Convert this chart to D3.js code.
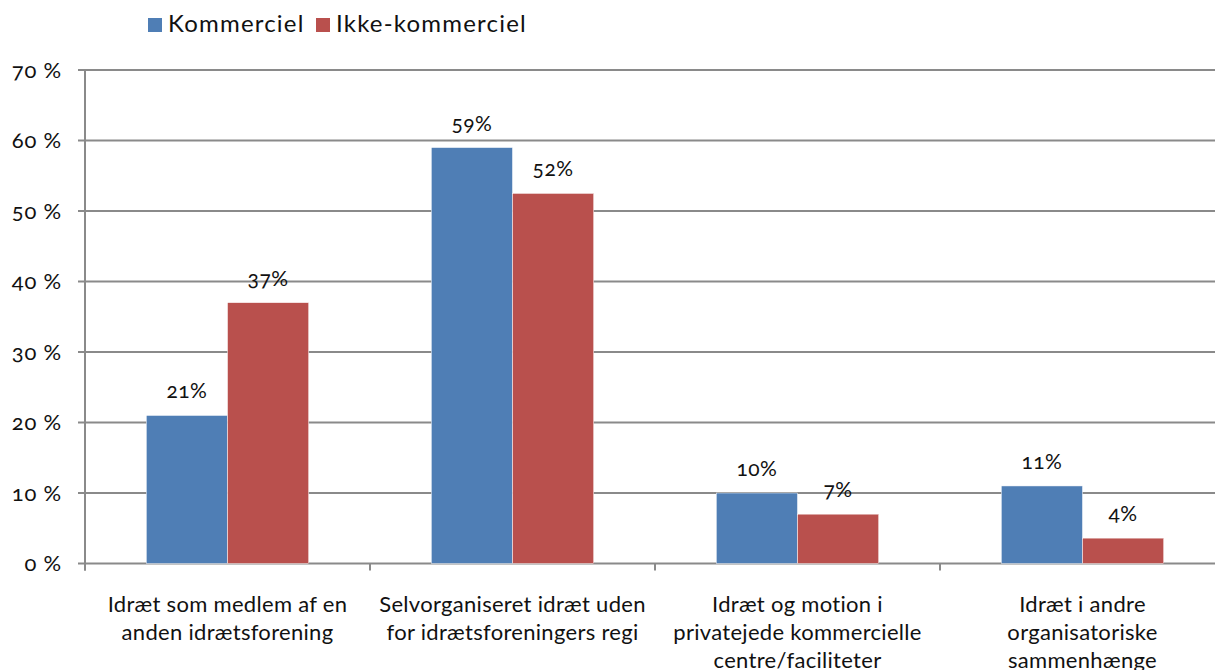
<!DOCTYPE html>
<html>
<head>
<meta charset="utf-8">
<script src="https://cdn.jsdelivr.net/npm/d3@7"></script>
<style>
  body { margin: 0; background: #fff; }
  text { font-family: Lato, "Open Sans", sans-serif; fill: #111; font-variant-numeric: oldstyle-nums; }
</style>
</head>
<body>
<div id="chart"></div>
<script>
var categories = [
  ["Idræt som medlem af en", "anden idrætsforening"],
  ["Selvorganiseret idræt uden", "for idrætsforeningers regi"],
  ["Idræt og motion i", "privatejede kommercielle", "centre/faciliteter"],
  ["Idræt i andre", "organisatoriske", "sammenhænge"]
];
var seriesNames = ["Kommerciel", "Ikke-kommerciel"];
var kommerciel = [21, 59, 10, 11];
var ikkeKommerciel = [37, 52.5, 7, 3.6];
var valueLabels = [["21%", "59%", "10%", "11%"], ["37%", "52%", "7%", "4%"]];
var yTicks = [0, 10, 20, 30, 40, 50, 60, 70];
var colors = ["#4F7EB5", "#B9504D"];

var svg = d3.select("#chart").append("svg")
  .attr("width", 1215)
  .attr("height", 670);

var margin = {top: 70, left: 85},
    width = 1140,
    height = 493.5,
    g = svg.append("g").attr("transform", "translate(" + margin.left + "," + margin.top + ")");

var x0 = d3.scaleBand().domain(d3.range(categories.length)).range([0, width])
  .paddingInner(0.43).paddingOuter(0.215);
var x1 = d3.scaleBand().domain([0, 1]).range([0, x0.bandwidth()]);
var y = d3.scaleLinear().domain([0, 70]).range([height, 0]);

// gridlines
g.selectAll(".grid").data(yTicks).enter().append("line")
  .attr("x1", -7).attr("x2", width)
  .attr("y1", function(d) { return y(d); })
  .attr("y2", function(d) { return y(d); })
  .style("stroke", "#8a8a8a").style("stroke-width", "2px");

g.selectAll(".ylab").data(yTicks).enter().append("text")
  .attr("x", -23).attr("y", function(d) { return y(d); })
  .attr("dy", "0.35em")
  .attr("text-anchor", "end")
  .style("font-size", "22px")
  .style("letter-spacing", "0.8px")
  .text(function(d) { return d + " %"; });

// axis line + category ticks
g.append("line").attr("x1", 0).attr("x2", 0).attr("y1", 0).attr("y2", height + 7)
  .style("stroke", "#8a8a8a").style("stroke-width", "2px");
var step = x0.step();
g.selectAll(".xtick").data(d3.range(categories.length + 1)).enter().append("line")
  .attr("x1", function(d) { return d * step; })
  .attr("x2", function(d) { return d * step; })
  .attr("y1", height).attr("y2", height + 7)
  .style("stroke", "#8a8a8a").style("stroke-width", "2px");

var series = [kommerciel, ikkeKommerciel];
series.forEach(function(vals, s) {
  g.selectAll(".bar" + s).data(vals).enter().append("rect")
    .attr("x", function(d, i) { return x0(i) + x1(s); })
    .attr("y", function(d) { return y(d); })
    .attr("width", x1.bandwidth())
    .attr("height", function(d) { return height - y(d); })
    .style("fill", colors[s])
    .style("stroke", "#fff").style("stroke-width", "0.5px");

  g.selectAll(".val" + s).data(vals).enter().append("text")
    .attr("x", function(d, i) { return x0(i) + x1(s) + x1.bandwidth() / 2; })
    .attr("y", function(d) { return y(d) - 17; })
    .attr("text-anchor", "middle")
    .style("font-size", "21px")
    .style("letter-spacing", "0.5px")
    .text(function(d, i) { return valueLabels[s][i]; });
});

// category labels
categories.forEach(function(lines, i) {
  var t = g.append("text")
    .attr("text-anchor", "middle")
    .style("font-size", "22px")
    .style("letter-spacing", "0.3px");
  lines.forEach(function(line, k) {
    t.append("tspan")
      .attr("x", x0(i) + x0.bandwidth() / 2)
      .attr("y", height + 48 + k * 28)
      .text(line);
  });
});

// legend
var legendX = [148, 316];
seriesNames.forEach(function(name, s) {
  svg.append("rect")
    .attr("x", legendX[s]).attr("y", 18)
    .attr("width", 14).attr("height", 14)
    .style("fill", colors[s]);
  svg.append("text")
    .attr("x", legendX[s] + 20).attr("y", 24)
    .attr("dy", "0.35em")
    .style("font-size", "24px")
    .style("letter-spacing", "1.2px")
    .text(name);
});
</script>
</body>
</html>
